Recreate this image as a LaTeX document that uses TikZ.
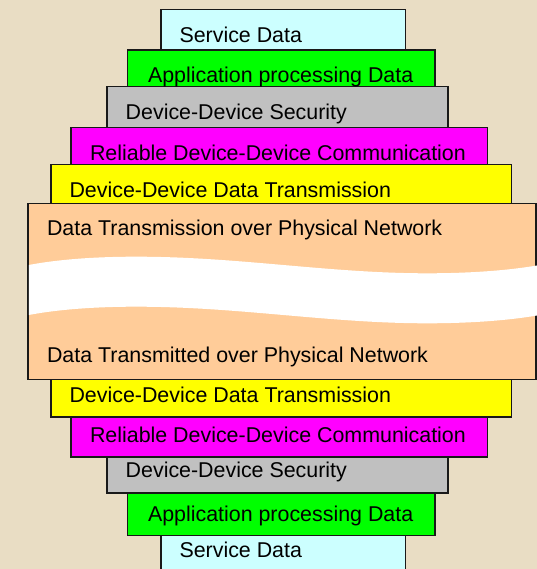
\documentclass[tikz,border=0pt]{standalone}
\usepackage{fontspec}
\setmainfont{Liberation Sans}
\definecolor{paper}{RGB}{233,221,196}
\definecolor{svc}{RGB}{204,255,255}
\definecolor{app}{RGB}{0,255,0}
\definecolor{sec}{RGB}{192,192,192}
\definecolor{rel}{RGB}{255,0,255}
\definecolor{ddt}{RGB}{255,255,0}
\definecolor{phy}{RGB}{255,204,153}
\definecolor{edge}{RGB}{25,25,25}
\newcommand{\lblfont}{\fontsize{21.4bp}{25bp}\selectfont}
\tikzset{
  layer/.style={draw=edge, line width=1.2bp},
  lbl/.style={anchor=base west, inner sep=0pt, outer sep=0pt, font=\lblfont, text=black},
}
\begin{document}
\begin{tikzpicture}[x=1bp, y=-1bp]
  \useasboundingbox (0,0) rectangle (537,569);
  \fill[paper] (0,0) rectangle (537,569);
  \clip (0,0) rectangle (537,569);

  % sending stack, top to bottom
  \draw[layer, fill=svc] (161,9.3) rectangle (405.5,60);
  \draw[layer, fill=app] (127.7,50) rectangle (435,95);
  \draw[layer, fill=sec] (107,86.7) rectangle (448,135);
  \draw[layer, fill=rel] (71,127.7) rectangle (487.7,170);
  \draw[layer, fill=ddt] (51,164.7) rectangle (511.6,210);

  % receiving stack, bottom to top
  \draw[layer, fill=svc] (161,535.7) rectangle (405.5,590);
  \draw[layer, fill=app] (127.7,493) rectangle (435,535.7);
  \draw[layer, fill=sec] (107,457) rectangle (448,493);
  \draw[layer, fill=rel] (71,417) rectangle (487.7,457);
  \draw[layer, fill=ddt] (51,379.3) rectangle (511.6,417);

  % physical network with the wavy break
  \draw[layer, fill=phy] (28,203.3) rectangle (536,379.3);
  \fill[white]
    (28.8,265) .. controls (60,259) and (100,256.5) .. (140,256.7)
    .. controls (240,257) and (330,273.3) .. (427,273.3)
    .. controls (480,273.3) and (520,269) .. (545,264)
    -- (545,314)
    .. controls (520,319) and (480,323.3) .. (427,323.3)
    .. controls (330,323.3) and (240,307) .. (140,306.7)
    .. controls (100,306.5) and (60,309) .. (28.8,315) -- cycle;

  % labels
  \node[lbl] (s1) at (179.5,42.3) {Service Data};
  \node[lbl] (a1) at (148,82.3) {Application processing Data};
  \node[lbl] (c1) at (125.7,119.3) {Device-Device Security};
  \node[lbl] (r1) at (90,160.2) {Reliable Device-Device Communication};
  \node[lbl] (d1) at (69.5,197.2) {Device-Device Data Transmission};
  \node[lbl] (p1) at (47,235) {Data Transmission over Physical Network};
  \node[lbl] (p2) at (47,362.7) {Data Transmitted over Physical Network};
  \node[lbl] (d2) at (69.5,402.2) {Device-Device Data Transmission};
  \node[lbl] (r2) at (90,442.3) {Reliable Device-Device Communication};
  \node[lbl] (c2) at (125.7,477.7) {Device-Device Security};
  \node[lbl] (a2) at (148,521.7) {Application processing Data};
  \node[lbl] (s2) at (179.5,557.3) {Service Data};
\end{tikzpicture}
\end{document}
